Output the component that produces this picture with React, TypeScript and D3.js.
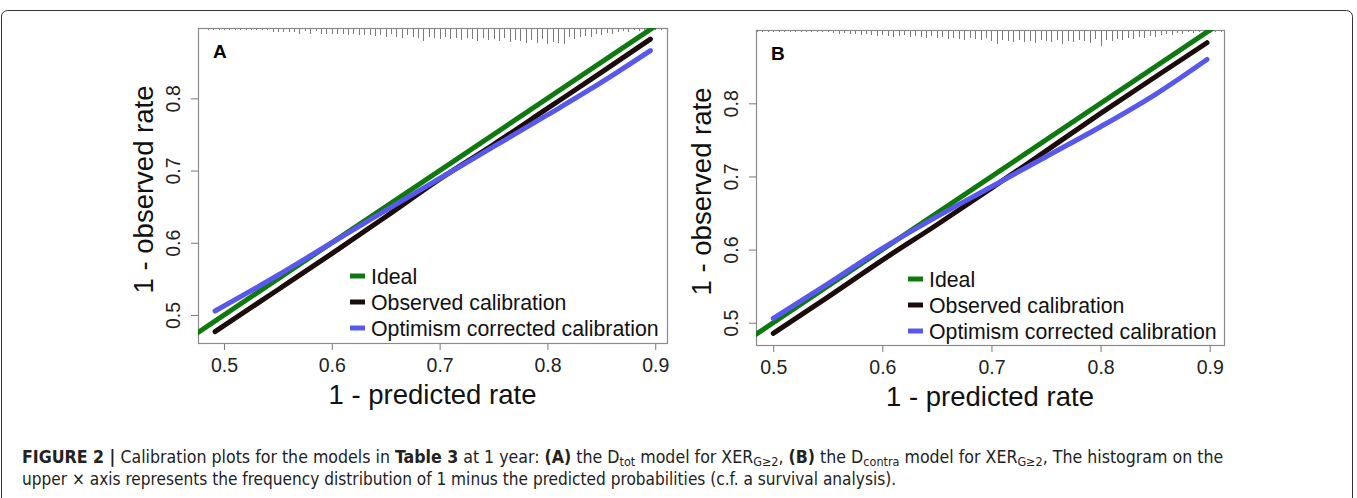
import React, { useEffect, useRef } from 'react';
import * as d3 from 'd3';

// axis ticks + legend
const xTicks = [0.5, 0.6, 0.7, 0.8, 0.9];
const yTicks = [0.5, 0.6, 0.7, 0.8];
const legendLabels = ['Ideal', 'Observed calibration', 'Optimism corrected calibration'];
const seriesColors = ['#0e7a0e', '#1c0b0b', '#5858ec'];
const panelLetters = ['A', 'B'];

// ideal line y = x (clipped to the plot box)
const idealEnds = [0, 1];

// panel A: D_tot model
const predA = [0.4917, 0.55, 0.6, 0.65, 0.7, 0.75, 0.8, 0.85, 0.8955];
const observedA = [0.477, 0.535, 0.585, 0.636, 0.688, 0.736, 0.786, 0.836, 0.882];
const correctedA = [0.5055, 0.555, 0.6, 0.645, 0.689, 0.733, 0.777, 0.822, 0.866];

// panel B: D_contra model
const predB = [0.5, 0.55, 0.6, 0.65, 0.7, 0.75, 0.8, 0.85, 0.8975];
const observedB = [0.4855, 0.535, 0.5856, 0.634, 0.684, 0.735, 0.7863, 0.836, 0.8829];
const correctedB = [0.506, 0.553, 0.6016, 0.645, 0.686, 0.727, 0.768, 0.812, 0.86];

// histogram of 1 - predicted on the upper axis (bins of 0.005 from 0.485)
const rugStart = 0.485;
const rugStep = 0.005;
const rugCountsA = [
  1, 1, 1, 1, 1, 1, 1, 1, 1, 1, 1, 1, 3, 3, 3, 3, 3, 5, 2, 5, 2, 5, 5, 5, 5, 5, 6, 5, 6, 6,
  6, 7, 6, 8, 5, 8, 9, 6, 8, 9, 12, 8, 9, 10, 8, 10, 9, 11, 9, 10, 12, 9, 11, 10, 12, 9, 13, 11, 12, 14,
  11, 14, 10, 15, 13, 14, 15, 8, 10, 8, 7, 8, 5, 6, 4, 5, 3, 2, 3, 1, 2, 1, 2, 1, 1,
];
const rugCountsB = [
  1, 1, 1, 1, 1, 1, 1, 1, 1, 1, 1, 1, 1, 1, 2, 3, 2, 3, 3, 4, 3, 4, 5, 4, 5, 6, 5, 4, 6, 5,
  6, 7, 5, 7, 6, 8, 7, 8, 9, 7, 8, 9, 7, 10, 13, 9, 10, 11, 9, 11, 10, 12, 9, 10, 11, 9, 13, 10, 11, 9,
  10, 12, 8, 15, 9, 10, 8, 9, 7, 8, 6, 7, 5, 6, 4, 3, 4, 2, 3, 1, 2, 1, 1, 2, 1, 1,
];

const panels = [
  {
    left: 198, right: 667, top: 28, bottom: 343,
    xDomain: [0.4759, 0.9109], yDomain: [0.4612, 0.8974],
    pred: predA, observed: observedA, corrected: correctedA, rug: rugCountsA,
    legendX: 350, legendY: 276,
  },
  {
    left: 756, right: 1224, top: 30, bottom: 345,
    xDomain: [0.4842, 0.9131], yDomain: [0.4695, 0.9003],
    pred: predB, observed: observedB, corrected: correctedB, rug: rugCountsB,
    legendX: 908, legendY: 279,
  },
];

const FONT = "'Liberation Sans', Arial, sans-serif";

export default function App() {
  const ref = useRef<SVGGElement>(null);

  useEffect(() => {
    const root = d3.select(ref.current);
    root.selectAll('*').remove();

    panels.forEach((p, i) => {
      const g = root.append('g');
      const x = d3.scaleLinear().domain(p.xDomain).range([p.left, p.right]);
      const y = d3.scaleLinear().domain(p.yDomain).range([p.bottom, p.top]);
      const h = d3.scaleLinear().domain([0, 15]).range([0, 15]);

      const clipId = `clip-${i}`;
      g.append('clipPath').attr('id', clipId)
        .append('rect')
        .attr('x', p.left).attr('y', p.top)
        .attr('width', p.right - p.left).attr('height', p.bottom - p.top);

      // upper-axis histogram spikes
      g.append('g')
        .selectAll('line')
        .data(p.rug)
        .join('line')
        .attr('x1', (_d, j) => Math.round(x(rugStart + j * rugStep)) + 0.5)
        .attr('x2', (_d, j) => Math.round(x(rugStart + j * rugStep)) + 0.5)
        .attr('y1', p.top)
        .attr('y2', (d) => p.top + 1 + h(d))
        .attr('stroke', '#7a7a7a')
        .attr('stroke-width', 1);

      // x axis
      const xa = g.append('g')
        .attr('transform', `translate(0,${p.bottom})`)
        .call(d3.axisBottom(x).tickValues(xTicks).tickSize(7).tickPadding(8).tickFormat(d3.format('.1f')));
      xa.select('.domain').remove();
      xa.selectAll('line').attr('stroke', '#777');
      xa.selectAll('text')
        .attr('font-family', FONT).attr('font-size', 19.5).attr('fill', '#222')
        .attr('dy', null).attr('y', 29);

      // y axis with rotated labels
      const ya = g.append('g')
        .attr('transform', `translate(${p.left},0)`)
        .call(d3.axisLeft(y).tickValues(yTicks).tickSize(7).tickFormat(d3.format('.1f')));
      ya.select('.domain').remove();
      ya.selectAll('line').attr('stroke', '#777');
      ya.selectAll('text')
        .attr('font-family', FONT).attr('font-size', 19.5).attr('fill', '#222')
        .attr('transform', 'rotate(-90)')
        .attr('text-anchor', 'middle')
        .attr('x', 0).attr('y', -18).attr('dy', null);

      // box
      g.append('rect')
        .attr('x', p.left + 0.5).attr('y', p.top + 0.5)
        .attr('width', p.right - p.left).attr('height', p.bottom - p.top)
        .attr('fill', 'none').attr('stroke', '#8a8a8a').attr('stroke-width', 1.2);

      // axis titles
      g.append('text')
        .attr('x', (p.left + p.right) / 2).attr('y', p.bottom + 61)
        .attr('text-anchor', 'middle')
        .attr('font-family', FONT).attr('font-size', 27.5).attr('fill', '#111')
        .text('1 - predicted rate');
      g.append('text')
        .attr('transform', `translate(${p.left - 45},${(p.top + p.bottom) / 2 + 4}) rotate(-90)`)
        .attr('text-anchor', 'middle')
        .attr('font-family', FONT).attr('font-size', 27.5).attr('fill', '#111')
        .text('1 - observed rate');

      // panel letter
      g.append('text')
        .attr('x', p.left + 15).attr('y', p.top + 30)
        .attr('font-family', FONT).attr('font-size', 19).attr('font-weight', 'bold')
        .text(panelLetters[i]);

      const lines = g.append('g').attr('clip-path', `url(#${clipId})`);
      const line = d3.line<[number, number]>()
        .x((d) => x(d[0])).y((d) => y(d[1]))
        .curve(d3.curveMonotoneX);

      lines.append('path')
        .datum(idealEnds.map((v) => [v, v] as [number, number]))
        .attr('d', d3.line<[number, number]>().x((d) => x(d[0])).y((d) => y(d[1])))
        .attr('fill', 'none').attr('stroke', seriesColors[0]).attr('stroke-width', 5);

      lines.append('path')
        .datum(p.pred.map((v, j) => [v, p.observed[j]] as [number, number]))
        .attr('d', line)
        .attr('fill', 'none').attr('stroke', seriesColors[1]).attr('stroke-width', 5)
        .attr('stroke-linecap', 'round');

      lines.append('path')
        .datum(p.pred.map((v, j) => [v, p.corrected[j]] as [number, number]))
        .attr('d', line)
        .attr('fill', 'none').attr('stroke', seriesColors[2]).attr('stroke-width', 5)
        .attr('stroke-linecap', 'round');

      // legend
      const lg = g.append('g').attr('transform', `translate(${p.legendX},${p.legendY})`);
      legendLabels.forEach((lab, k) => {
        const yy = k * 26;
        lg.append('line')
          .attr('x1', 0).attr('x2', 15).attr('y1', yy).attr('y2', yy)
          .attr('stroke', seriesColors[k]).attr('stroke-width', 5);
        lg.append('text')
          .attr('x', 21).attr('y', yy + 7.5)
          .attr('font-family', FONT).attr('font-size', 21.3).attr('fill', '#111')
          .text(lab);
      });
    });
  }, []);

  const capFont = "'DejaVu Sans Condensed', 'Liberation Sans', sans-serif";

  return (
    <svg width={1357} height={498} style={{ position: 'absolute', left: 0, top: 0, background: '#fff' }}>
      <rect x={1.5} y={10.5} width={1351} height={520} rx={6} fill="none" stroke="#333" strokeWidth={1} />
      <g ref={ref} />
      <text x={22} y={463} fontFamily={capFont} fontSize={17.6} fill="#222">
        <tspan fontWeight="bold">FIGURE 2 |</tspan>
        <tspan> Calibration plots for the models in </tspan>
        <tspan fontWeight="bold">Table 3</tspan>
        <tspan> at 1 year: </tspan>
        <tspan fontWeight="bold">(A)</tspan>
        <tspan> the D</tspan>
        <tspan fontSize={12.5} dy={3}>tot</tspan>
        <tspan dy={-3}> model for XER</tspan>
        <tspan fontSize={12.5} dy={3}>G≥2</tspan>
        <tspan dy={-3}>, </tspan>
        <tspan fontWeight="bold">(B)</tspan>
        <tspan> the D</tspan>
        <tspan fontSize={12.5} dy={3}>contra</tspan>
        <tspan dy={-3}> model for XER</tspan>
        <tspan fontSize={12.5} dy={3}>G≥2</tspan>
        <tspan dy={-3}>, The histogram on the</tspan>
      </text>
      <text x={22} y={485} fontFamily={capFont} fontSize={17.1} fill="#222">
        upper × axis represents the frequency distribution of 1 minus the predicted probabilities (c.f. a survival analysis).
      </text>
    </svg>
  );
}
